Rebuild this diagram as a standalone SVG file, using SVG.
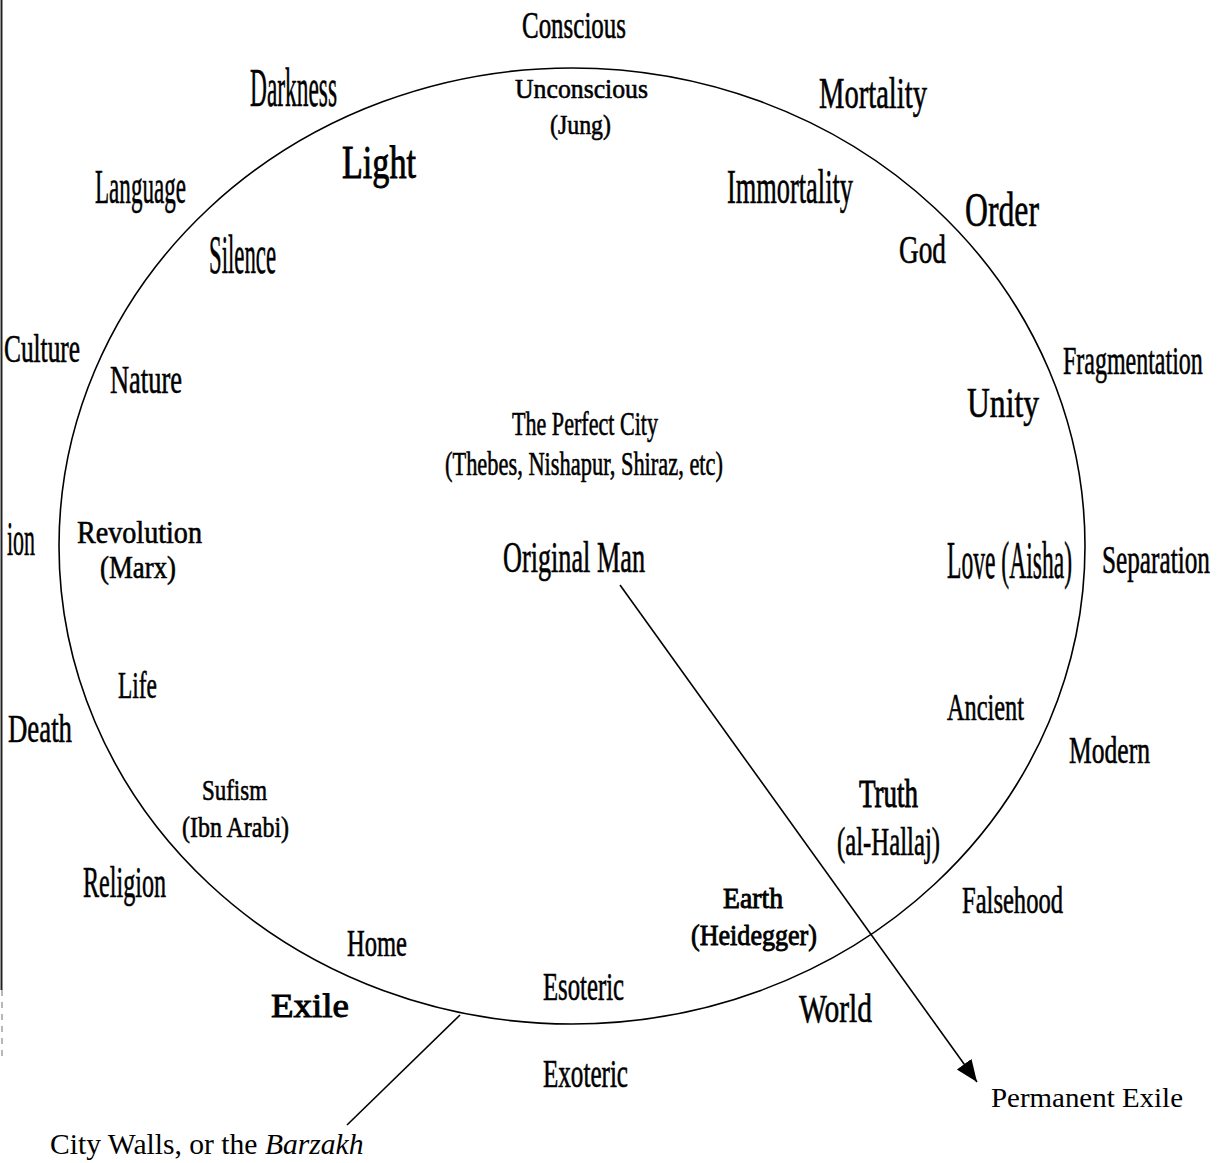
<svg xmlns="http://www.w3.org/2000/svg" width="1221" height="1163" viewBox="0 0 1221 1163">
<style>
.l{font-family:"Liberation Serif","Times New Roman",serif;fill:#000;stroke:#000;stroke-width:0.6}
.c{font-family:"Liberation Serif","Times New Roman",serif;fill:#000}
.o{font-family:"Liberation Serif","Times New Roman",serif;fill:#000;stroke:#000;stroke-width:0.9}
.ln{fill:none;stroke:#000;stroke-width:1.6}
</style>
<defs>
<marker id="ah" markerUnits="userSpaceOnUse" markerWidth="24" markerHeight="20" refX="22" refY="9" orient="auto">
<path d="M0,0 L22,9 L0,18 z" fill="#000"/>
</marker>
</defs>
<rect width="1221" height="1163" fill="#fff"/>
<line x1="1.5" y1="0" x2="1.5" y2="990" stroke="#222" stroke-width="2"/>
<line x1="2" y1="990" x2="2" y2="1060" stroke="#888" stroke-width="1.2" stroke-dasharray="6,6"/>
<g id="city-walls"><ellipse class="ln" cx="572" cy="546" rx="513" ry="478"/></g>
<g id="connectors">
<line class="ln" x1="620" y1="585" x2="977" y2="1082" marker-end="url(#ah)"/>
<line class="ln" x1="460" y1="1015" x2="347" y2="1125"/>
</g>
<g id="n-conscious"><text class="l" x="522" y="38" font-size="38" textLength="104" lengthAdjust="spacingAndGlyphs">Conscious</text></g>
<g id="n-unconscious"><text class="l" x="515" y="98" font-size="28" textLength="133" lengthAdjust="spacingAndGlyphs">Unconscious</text>
<text class="l" x="550" y="134" font-size="28" textLength="61" lengthAdjust="spacingAndGlyphs">(Jung)</text></g>
<g id="n-darkness"><text class="l" x="250" y="106" font-size="55" textLength="87" lengthAdjust="spacingAndGlyphs">Darkness</text></g>
<g id="n-light"><text class="o" x="342" y="178" font-size="46" textLength="74" lengthAdjust="spacingAndGlyphs">Light</text></g>
<g id="n-language"><text class="l" x="95" y="203" font-size="48" textLength="91" lengthAdjust="spacingAndGlyphs">Language</text></g>
<g id="n-silence"><text class="l" x="209" y="273" font-size="54" textLength="67" lengthAdjust="spacingAndGlyphs">Silence</text></g>
<g id="n-mortality"><text class="l" x="819" y="108" font-size="44" textLength="108" lengthAdjust="spacingAndGlyphs">Mortality</text></g>
<g id="n-immortality"><text class="l" x="727" y="203" font-size="48" textLength="126" lengthAdjust="spacingAndGlyphs">Immortality</text></g>
<g id="n-order"><text class="l" x="965" y="226" font-size="48" textLength="74" lengthAdjust="spacingAndGlyphs">Order</text></g>
<g id="n-god"><text class="l" x="899" y="263" font-size="41" textLength="47" lengthAdjust="spacingAndGlyphs">God</text></g>
<g id="n-fragmentation"><text class="l" transform="translate(1063,374) scale(0.6,1)" x="0" y="0" font-size="40" textLength="233" lengthAdjust="spacingAndGlyphs">Fragmentation</text></g>
<g id="n-unity"><text class="l" x="967" y="417" font-size="43" textLength="72" lengthAdjust="spacingAndGlyphs">Unity</text></g>
<g id="n-culture"><text class="l" x="4" y="362" font-size="40" textLength="76" lengthAdjust="spacingAndGlyphs">Culture</text></g>
<g id="n-nature"><text class="l" x="110" y="393" font-size="41" textLength="72" lengthAdjust="spacingAndGlyphs">Nature</text></g>
<g id="n-perfect-city"><text class="l" x="512" y="435" font-size="34" textLength="146" lengthAdjust="spacingAndGlyphs">The Perfect City</text>
<text class="l" x="445" y="475" font-size="34" textLength="278" lengthAdjust="spacingAndGlyphs">(Thebes, Nishapur, Shiraz, etc)</text></g>
<g id="n-ion"><text class="l" x="7" y="555" font-size="48" textLength="28" lengthAdjust="spacingAndGlyphs">ion</text></g>
<g id="n-revolution"><text class="l" x="77" y="543" font-size="31" textLength="125" lengthAdjust="spacingAndGlyphs">Revolution</text>
<text class="l" x="100" y="578" font-size="31" textLength="76" lengthAdjust="spacingAndGlyphs">(Marx)</text></g>
<g id="n-original-man"><text class="l" x="503" y="572" font-size="44" textLength="142" lengthAdjust="spacingAndGlyphs">Original Man</text></g>
<g id="n-love"><text class="l" transform="translate(947,578) scale(0.453,1)" x="0" y="0" font-size="52" textLength="276" lengthAdjust="spacingAndGlyphs">Love (Aisha)</text></g>
<g id="n-separation"><text class="l" transform="translate(1102,573) scale(0.617,1)" x="0" y="0" font-size="41" textLength="175" lengthAdjust="spacingAndGlyphs">Separation</text></g>
<g id="n-life"><text class="l" x="118" y="698" font-size="38" textLength="39" lengthAdjust="spacingAndGlyphs">Life</text></g>
<g id="n-death"><text class="l" x="8" y="742" font-size="40" textLength="64" lengthAdjust="spacingAndGlyphs">Death</text></g>
<g id="n-ancient"><text class="l" x="947" y="720" font-size="37" textLength="77" lengthAdjust="spacingAndGlyphs">Ancient</text></g>
<g id="n-modern"><text class="l" x="1069" y="763" font-size="38" textLength="81" lengthAdjust="spacingAndGlyphs">Modern</text></g>
<g id="n-sufism"><text class="l" x="202" y="800" font-size="30" textLength="65" lengthAdjust="spacingAndGlyphs">Sufism</text>
<text class="l" x="182" y="837" font-size="30" textLength="107" lengthAdjust="spacingAndGlyphs">(Ibn Arabi)</text></g>
<g id="n-truth"><text class="o" x="859" y="807" font-size="40" textLength="59" lengthAdjust="spacingAndGlyphs">Truth</text>
<text class="l" x="837" y="855" font-size="40" textLength="103" lengthAdjust="spacingAndGlyphs">(al-Hallaj)</text></g>
<g id="n-religion"><text class="l" x="83" y="897" font-size="44" textLength="83" lengthAdjust="spacingAndGlyphs">Religion</text></g>
<g id="n-earth"><text class="o" x="723" y="908" font-size="30" textLength="60" lengthAdjust="spacingAndGlyphs">Earth</text>
<text class="o" x="691" y="945" font-size="30" textLength="126" lengthAdjust="spacingAndGlyphs">(Heidegger)</text></g>
<g id="n-falsehood"><text class="l" x="962" y="913" font-size="38" textLength="101" lengthAdjust="spacingAndGlyphs">Falsehood</text></g>
<g id="n-home"><text class="l" x="347" y="956" font-size="38" textLength="60" lengthAdjust="spacingAndGlyphs">Home</text></g>
<g id="n-esoteric"><text class="l" x="543" y="1000" font-size="40" textLength="81" lengthAdjust="spacingAndGlyphs">Esoteric</text></g>
<g id="n-exile"><text class="o" x="271" y="1017" font-size="33" textLength="78" lengthAdjust="spacingAndGlyphs">Exile</text></g>
<g id="n-world"><text class="l" x="799" y="1022" font-size="40" textLength="73" lengthAdjust="spacingAndGlyphs">World</text></g>
<g id="n-exoteric"><text class="l" x="543" y="1087" font-size="39" textLength="85" lengthAdjust="spacingAndGlyphs">Exoteric</text></g>
<g id="n-permanent-exile"><text class="c" x="991" y="1107" font-size="28" textLength="192" lengthAdjust="spacingAndGlyphs">Permanent Exile</text></g>
<g id="n-barzakh"><text class="c" x="50" y="1154" font-size="29.6">City Walls, or the <tspan font-style="italic">Barzakh</tspan></text></g>
</svg>
